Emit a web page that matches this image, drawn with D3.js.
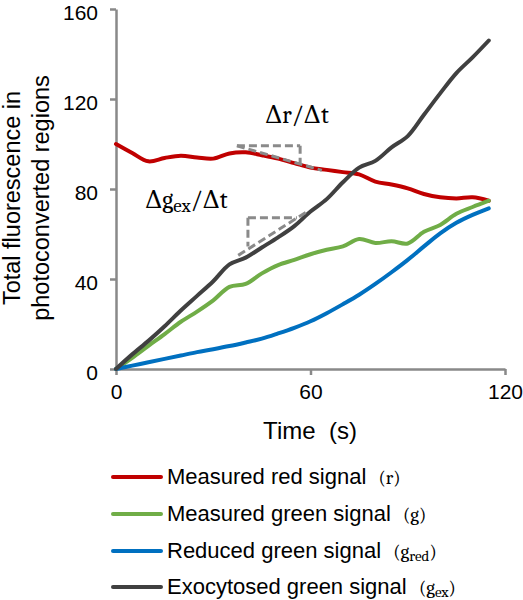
<!DOCTYPE html>
<html><head><meta charset="utf-8">
<script src="https://cdn.jsdelivr.net/npm/d3@7"></script>
<style>body{margin:0;background:#fff}svg{display:block}</style>
</head><body>
<svg id="c" width="523" height="600"></svg>
<script>
const time = [0,5,10,15,20,25,30,35,40,45,50,55,60,65,70,75,80,85,90,95,100,105,110,115];
const redSignal   = [100,96,92.3,93.8,94.8,94,93.5,95.8,96.3,95,93.5,91.5,89.5,88.5,87.5,86.5,83.3,82,80.3,77.8,76.3,75.8,76.3,74.8];
const greenSignal = [0,5,10.3,15.5,21,25.5,30.5,36.5,37.8,42.5,46.2,48.5,51,53,54.5,57.8,56,56.8,55.8,61,64,69,72,74.8];
const reducedGreen = [0,1.5,3,4.5,6,7.5,8.8,10.2,11.8,13.5,15.8,18.3,21.2,24.8,28.8,33,37.8,43,48.5,54.5,60.3,65,68.5,71.4];
const exoGreen    = [0,6.5,12.5,19,26,32.5,39,46.5,49.5,54,58.5,63.5,70,75.5,83,89.5,92.5,98.5,103.5,113,122.5,131.5,138.5,146];
const xTicks = [0,60,120];
const yTicks = [0,40,80,120,160];
const seriesNames = ["Measured red signal","Measured green signal","Reduced green signal","Exocytosed green signal"];
const seriesSymbols = [["r",""],["g",""],["g","red"],["g","ex"]];
const seriesColors = ["#C00000","#70AD47","#0070C0","#404040"];
// annotation triangles (data coords)
const redTri = {hyp:[[37.3,99.2],[63.5,88.3]], top:[[37.3,99.2],[56.8,99.2]], vert:[[56.8,99.2],[56.8,91.5]]};
const exTri  = {hyp:[[37.7,50.5],[59.5,70.5]], top:[[40.7,67.2],[55.8,67.2]], vert:[[40.7,67.2],[40.7,54.5]]};

const svg = d3.select("#c");
const x = d3.scaleLinear().domain([0,120]).range([116,505]);
const y = d3.scaleLinear().domain([0,160]).range([369,9]);

const axisColor = "#898989";
const sans = "Arial, 'Liberation Sans', sans-serif";
const gx = svg.append("g").attr("transform","translate(0,369)")
  .call(d3.axisBottom(x).tickValues(xTicks).tickSize(6).tickSizeOuter(0).tickPadding(9));
const gy = svg.append("g").attr("transform","translate(116,0)")
  .call(d3.axisLeft(y).tickValues(yTicks).tickSize(6).tickSizeOuter(0).tickPadding(12));
[gx,gy].forEach(g=>{
  g.select(".domain").attr("stroke",axisColor).attr("stroke-width",2.5);
  g.selectAll(".tick line").attr("stroke",axisColor).attr("stroke-width",2.5);
  g.selectAll(".tick text").attr("font-family",sans).attr("font-size",21).attr("fill","#000");
});
gy.selectAll(".tick text").attr("dy","0.5em");

svg.append("text").attr("x",310).attr("y",439).attr("text-anchor","middle")
  .attr("font-family",sans).attr("font-size",24).attr("fill","#000")
  .attr("xml:space","preserve").text("Time  (s)");

const yl = svg.append("text").attr("transform","translate(0,198) rotate(-90)")
  .attr("text-anchor","middle").attr("font-family",sans).attr("font-size",23.5).attr("fill","#000");
yl.append("tspan").attr("x",0).attr("y",20).text("Total fluorescence in");
yl.append("tspan").attr("x",0).attr("y",49).text("photoconverted regions");

const line = d3.line().x((d,i)=>x(time[i])).y(d=>y(d)).curve(d3.curveCatmullRom.alpha(0.5));
[redSignal,greenSignal,reducedGreen,exoGreen].forEach((s,i)=>{
  svg.append("path").attr("d",line(s)).attr("fill","none").attr("stroke",seriesColors[i])
    .attr("stroke-width",4).attr("stroke-linecap","round").attr("stroke-linejoin","round");
});

const seg = d3.line().x(d=>x(d[0])).y(d=>y(d[1]));
[redTri,exTri].forEach(t=>{
  ["hyp","top","vert"].forEach(k=>{
    svg.append("path").attr("d",seg(t[k])).attr("fill","none").attr("stroke","#8a8a8a")
      .attr("stroke-width",3).attr("stroke-dasharray","8,4");
  });
});

const serif = "Cambria, 'DejaVu Serif', serif";
svg.append("text").attr("x",265).attr("y",123).attr("font-family",serif).attr("font-size",24).attr("fill","#000").text("Δr/Δt");
const ge = svg.append("text").attr("x",145).attr("y",208).attr("font-family",serif).attr("font-size",24).attr("fill","#000");
ge.append("tspan").text("Δg");
ge.append("tspan").attr("font-size",19).attr("dy",4).text("ex");
ge.append("tspan").attr("dy",-4).text("/Δt");

const legY = [477,514,551,587];
seriesNames.forEach((n,i)=>{
  svg.append("line").attr("x1",113).attr("x2",161).attr("y1",legY[i]).attr("y2",legY[i])
    .attr("stroke",seriesColors[i]).attr("stroke-width",4).attr("stroke-linecap","round");
  const t = svg.append("text").attr("x",167).attr("y",legY[i]+7).attr("fill","#000")
    .attr("font-family",sans).attr("font-size",22).attr("xml:space","preserve");
  t.append("tspan").text(n+"  ");
  const s = seriesSymbols[i];
  t.append("tspan").attr("font-family",serif).attr("font-size",19).text("("+s[0]);
  if(s[1]){
    t.append("tspan").attr("font-family",serif).attr("font-size",15).attr("dy",3).text(s[1]);
    t.append("tspan").attr("font-family",serif).attr("font-size",19).attr("dy",-3).text(")");
  } else {
    t.append("tspan").attr("font-family",serif).attr("font-size",19).text(")");
  }
});
</script>
</body></html>
